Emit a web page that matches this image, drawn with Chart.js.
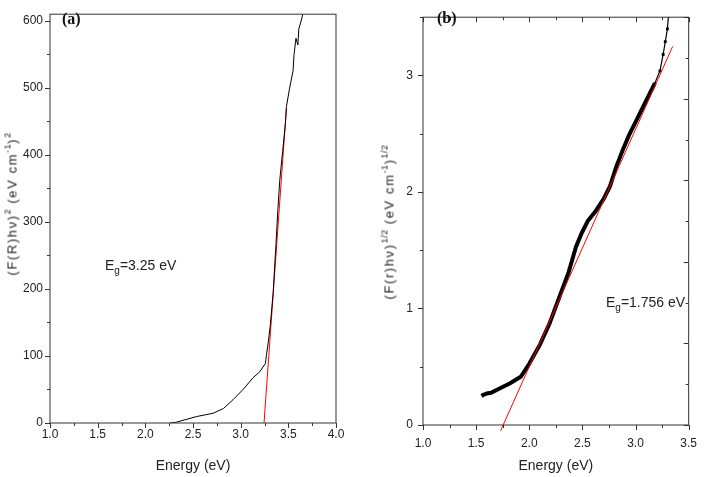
<!DOCTYPE html>
<html>
<head>
<meta charset="utf-8">
<script src="https://cdn.jsdelivr.net/npm/chart.js@4.4.1/dist/chart.umd.min.js"></script>
<style>
  html, body { margin: 0; padding: 0; background: #fff; }
  #wrap { position: relative; width: 708px; height: 477px; overflow: hidden; font-family: 'Liberation Sans', Arial, sans-serif; color: #222; }
  canvas { position: absolute; top: 0; }
  .tag { position: absolute; font: bold 16px 'Liberation Serif', 'Times New Roman', serif; color: #111; line-height: 1; }
  .eg { position: absolute; font-size: 14px; line-height: 1; white-space: nowrap; }
  .eg sub { font-size: 10px; vertical-align: -4px; }
  .ytitle { position: absolute; font-size: 13px; letter-spacing: 1.6px; white-space: nowrap; line-height: 1;
            transform: translate(-50%, -50%) rotate(-90deg); }
  .ytitle sup { font-size: 9px; vertical-align: 6px; letter-spacing: 0.5px; }
</style>
</head>
<body>
<div id="wrap">
  <canvas id="chart-a" width="354" height="477" style="left:0;width:354px;height:477px"></canvas>
  <canvas id="chart-b" width="354" height="477" style="left:354px;width:354px;height:477px"></canvas>
  <div class="tag" style="left:62px;top:11px">(a)</div>
  <div class="tag" style="left:437px;top:10px">(b)</div>
  <div class="eg" style="left:105px;top:258px">E<sub>g</sub>=3.25 eV</div>
  <div class="eg" style="left:606px;top:295px">E<sub>g</sub>=1.756 eV</div>
  <div class="ytitle" style="left:11px;top:204px">(F(R)hν)<sup>2</sup> (eV cm<sup>-1</sup>)<sup>2</sup></div>
  <div class="ytitle" style="left:388px;top:222px">(F(r)hν)<sup>1/2</sup> (eV cm<sup>-1</sup>)<sup>1/2</sup></div>
</div>
<script>
// panel (a): (F(R)hv)^2 vs energy
const energyA = [2.26, 2.32, 2.54, 2.71, 2.82, 2.92, 3.03, 3.13, 3.20, 3.26, 3.27, 3.29, 3.31, 3.34, 3.37,
                 3.39, 3.41, 3.44, 3.47, 3.48, 3.51, 3.55, 3.56, 3.58, 3.60, 3.61, 3.64, 3.66];
const signalA = [0, 1, 9.7, 14.5, 21.7, 34.8, 50.7, 67.6, 76.3, 89, 101, 121, 145, 193, 266,
                 318, 362, 405, 448, 472, 497, 526, 550, 574, 564, 588, 603, 615];
const fitEnergyA = [3.245, 3.48];
const fitSignalA = [0, 470];
const xTicksA = [1.0, 1.5, 2.0, 2.5, 3.0, 3.5, 4.0];
const yTicksA = [0, 100, 200, 300, 400, 500, 600];

// panel (b): (F(r)hv)^1/2 vs energy
const energyB = [1.55, 1.57, 1.60, 1.64, 1.73, 1.82, 1.92, 2.00, 2.10, 2.19, 2.28, 2.37, 2.44, 2.49, 2.55,
                 2.62, 2.70, 2.76, 2.82, 2.88, 2.94, 3.00, 3.06, 3.12, 3.18, 3.23, 3.26, 3.28, 3.30, 3.31];
const signalB = [0.25, 0.26, 0.27, 0.276, 0.318, 0.359, 0.414, 0.525, 0.69, 0.87, 1.09, 1.31, 1.53, 1.64, 1.75,
                 1.83, 1.94, 2.05, 2.22, 2.36, 2.49, 2.60, 2.71, 2.82, 2.93, 3.04, 3.18, 3.29, 3.40, 3.51];
const fitEnergyB = [1.73, 3.35];
const fitSignalB = [-0.05, 3.25];
const xTicksB = [1.0, 1.5, 2.0, 2.5, 3.0, 3.5];
const yTicksB = [0, 1, 2, 3];

const pts = (xs, ys) => xs.map((x, i) => ({ x, y: ys[i] }));
const tickFont = { family: "'Liberation Sans', Arial, sans-serif", size: 12 };

// frame box plus major/minor tick marks, positioned through the chart scales
const frameTicks = {
  id: 'frameTicks',
  afterDraw(chart, args, o) {
    const { ctx, chartArea: a, scales: { x, y } } = chart;
    ctx.save();
    ctx.strokeStyle = '#333';
    ctx.lineWidth = 1;
    ctx.strokeRect(a.left, a.top, a.right - a.left, a.bottom - a.top);
    ctx.beginPath();
    const mark = (scale, step, major, fn) => {
      const n = Math.round((scale.max - scale.min) / step + 1e-6);
      for (let i = 0; i <= n; i++) {
        const v = scale.min + i * step;
        if (v > scale.max + 1e-6) break;
        const r = (v - scale.min) / major;
        fn(Math.round(scale.getPixelForValue(v)) + 0.5, Math.abs(r - Math.round(r)) < 1e-6 ? 5 : 3);
      }
    };
    mark(x, o.xStep, o.xMajor, (p, l) => { ctx.moveTo(p, a.bottom); ctx.lineTo(p, a.bottom + l); });
    mark(y, o.yStep, o.yMajor, (p, l) => { ctx.moveTo(a.left, p); ctx.lineTo(a.left - l, p); });
    if (o.mirror) {
      mark(x, o.xStep, o.xMajor, (p, l) => { ctx.moveTo(p, a.top); ctx.lineTo(p, a.top + l); });
      mark(y, o.rStep, o.rMajor, (p, l) => { ctx.moveTo(a.right, p); ctx.lineTo(a.right - l, p); });
    }
    ctx.stroke();
    ctx.restore();
  }
};

function axes(xMin, xMax, xTicks, yMax, yTicks, yWidth, xHeight, xPad, yPad, yLabel) {
  return {
    x: {
      type: 'linear', min: xMin, max: xMax,
      afterBuildTicks: s => { s.ticks = xTicks.map(v => ({ value: v })); },
      afterFit: s => { s.height = xHeight; },
      grid: { display: false, drawTicks: false },
      border: { display: false },
      ticks: { color: '#222', font: tickFont, padding: xPad, maxRotation: 0, callback: v => v.toFixed(1) },
      title: { display: true, text: 'Energy (eV)', color: '#222',
               font: { family: "'Liberation Sans', Arial, sans-serif", size: 14 }, padding: { top: 0, bottom: 2 } }
    },
    y: {
      type: 'linear', min: 0, max: yMax,
      afterBuildTicks: s => { s.ticks = yTicks.map(v => ({ value: v })); },
      afterFit: s => { s.width = yWidth; },
      grid: { display: false, drawTicks: false },
      border: { display: false },
      ticks: { color: '#222', font: tickFont, padding: yPad, callback: yLabel }
    }
  };
}

new Chart(document.getElementById('chart-a').getContext('2d'), {
  type: 'line',
  data: {
    datasets: [
      { data: pts(energyA, signalA), borderColor: '#000', borderWidth: 1, pointRadius: 0, tension: 0 },
      { data: pts(fitEnergyA, fitSignalA), borderColor: '#ff0000', borderWidth: 1, pointRadius: 0 }
    ]
  },
  options: {
    responsive: false, animation: false, events: [],
    layout: { padding: { top: 2, right: 18, bottom: 0, left: 0 } },
    plugins: { legend: { display: false }, tooltip: { enabled: false },
               frameTicks: { xStep: 0.25, xMajor: 0.5, yStep: 50, yMajor: 100 } },
    scales: axes(1, 4, xTicksA, 610, yTicksA, 50, 54, 4, 7, v => String(v))
  },
  plugins: [frameTicks]
});

new Chart(document.getElementById('chart-b').getContext('2d'), {
  type: 'line',
  data: {
    datasets: [
      { data: pts(fitEnergyB, fitSignalB), borderColor: '#ff0000', borderWidth: 1, pointRadius: 0,
        clip: { left: 0, top: 0, right: 0, bottom: 8 } },
      { data: pts(energyB, signalB), borderColor: '#000', tension: 0,
        segment: { borderWidth: c => c.p0.parsed.x >= 3.18 ? 1.2 : 4 },
        pointStyle: 'rect', pointBackgroundColor: '#000', pointBorderWidth: 0,
        pointRadius: c => c.parsed && c.parsed.x >= 3.18 ? 2 : 0 }
    ]
  },
  options: {
    responsive: false, animation: false, events: [],
    layout: { padding: { top: 2, right: 9, bottom: 0, left: 0 } },
    plugins: { legend: { display: false }, tooltip: { enabled: false },
               frameTicks: { xStep: 0.25, xMajor: 0.5, yStep: 0.5, yMajor: 1, mirror: true, rStep: 0.35, rMajor: 0.7 } },
    scales: axes(1, 3.5, xTicksB, 3.5, yTicksB, 69, 52, 11, 10, v => String(v))
  },
  plugins: [frameTicks]
});
</script>
</body>
</html>
